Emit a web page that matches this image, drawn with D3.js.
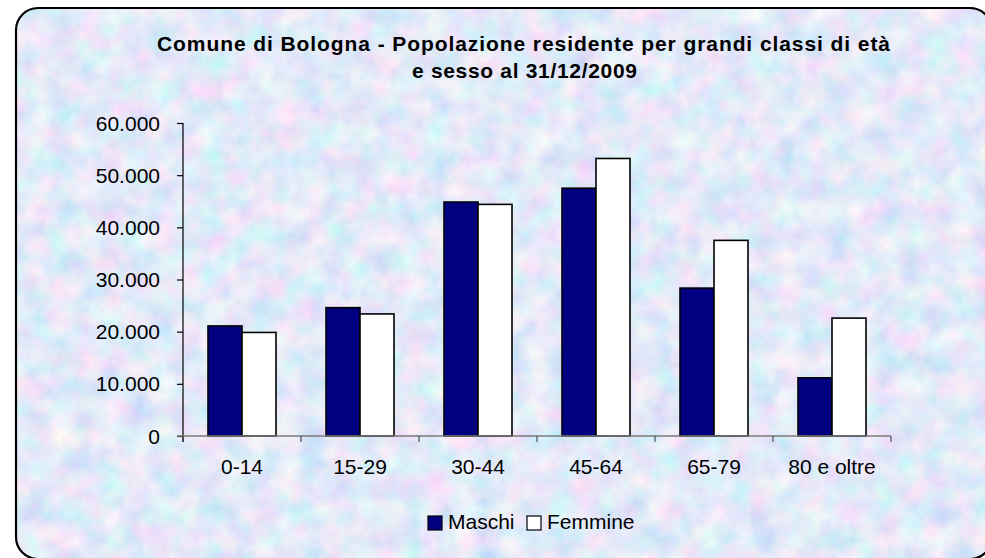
<!DOCTYPE html>
<html>
<head>
<meta charset="utf-8">
<script src="https://cdn.jsdelivr.net/npm/d3@7/dist/d3.min.js"></script>
<style>
  html, body { margin: 0; padding: 0; background: #ffffff; overflow: hidden; }
  svg { display: block; font-family: "Liberation Sans", Arial, sans-serif; }
</style>
</head>
<body>
<svg id="chart" width="985" height="558"></svg>
<script>
// ---- data ----
const categories = ["0-14", "15-29", "30-44", "45-64", "65-79", "80 e oltre"];
const seriesNames = ["Maschi", "Femmine"];
const maschi  = [21100, 24600, 44850, 47500, 28350, 11150];
const femmine = [19850, 23400, 44400, 53200, 37500, 22600];
const yTicks = [0, 10000, 20000, 30000, 40000, 50000, 60000];
const titleLines = ["Comune di Bologna - Popolazione residente per grandi classi di età",
                    "e sesso al 31/12/2009"];
const colors = ["#000080", "#ffffff"];

(function () {
const values = [maschi, femmine];
const rows = categories.map((c, i) => ({ cat: c, vals: seriesNames.map((s, j) => ({ s, j, v: values[j][i] })) }));

const svg = d3.select("#chart");

// ---- background texture ----
const defs = svg.append("defs");
const f = defs.append("filter").attr("id", "tex")
  .attr("x", 0).attr("y", 0).attr("width", "100%").attr("height", "100%");
f.append("feTurbulence").attr("type", "fractalNoise").attr("baseFrequency", "0.04")
  .attr("numOctaves", 3).attr("seed", 11).attr("result", "n");
f.append("feColorMatrix").attr("in", "n").attr("type", "matrix")
  .attr("values", "0.62 0 0 0 0.46  0 0.38 0 0 0.63  0 0 0.12 0 0.88  0 0 0 0 1")
  .attr("result", "c");
f.append("feComposite").attr("in", "c").attr("in2", "SourceGraphic").attr("operator", "in");

// rounded frame; right edge lies just past the visible area, as in the reference
const frame = "M16,30 A22,22 0 0 1 38,8 L970,8 A22,22 0 0 1 992,30 L992,537 A22,22 0 0 1 970,559 L38,559 A22,22 0 0 1 16,537 Z";
svg.append("path").attr("d", frame).attr("fill", "#c8d6f4").attr("filter", "url(#tex)");
svg.append("path").attr("d", frame).attr("fill", "none").attr("stroke", "#000").attr("stroke-width", 2.2);

// ---- scales ----
const pLeft = 183, pRight = 891, pTop = 123, pBottom = 436;
const x = d3.scaleBand().domain(categories).range([pLeft, pRight])
  .paddingInner(50 / 118).paddingOuter(25 / 118);
const xs = d3.scaleBand().domain(seriesNames).range([0, x.bandwidth()]).padding(0);
const y = d3.scaleLinear().domain([0, 60000]).range([pBottom, pTop]);
const it = d3.formatLocale({ decimal: ",", thousands: ".", grouping: [3], currency: ["€", ""] });
const fmt = it.format(",d");

// ---- title ----
const title = svg.append("text").attr("text-anchor", "middle")
  .attr("font-size", 21).attr("font-weight", "bold").attr("fill", "#000");
title.append("tspan").attr("x", 523.5).attr("y", 51).attr("textLength", 733)
  .attr("lengthAdjust", "spacing").text(titleLines[0]);
title.append("tspan").attr("x", 524.5).attr("y", 78).attr("textLength", 225)
  .attr("lengthAdjust", "spacing").text(titleLines[1]);

// ---- y axis ----
const yAxis = svg.append("g").attr("transform", `translate(${pLeft},0)`)
  .call(d3.axisLeft(y).tickValues(yTicks).tickFormat(d => fmt(d)).tickSize(6).tickPadding(17));
yAxis.select(".domain").attr("stroke", "#000").attr("stroke-width", 1.2)
  .attr("d", `M0,${pTop}V${pBottom + 6}`);
yAxis.selectAll(".tick line").attr("stroke", "#000").attr("stroke-width", 1.2);
yAxis.selectAll(".tick text").attr("font-size", 21).attr("fill", "#000")
  .attr("font-family", "Liberation Sans, Arial, sans-serif").attr("dy", "0.34em");

// ---- bars ----
const g = svg.append("g");
g.selectAll("g.cat").data(rows).join("g").attr("class", "cat")
  .attr("transform", d => `translate(${x(d.cat)},0)`)
  .selectAll("rect").data(d => d.vals).join("rect")
  .attr("x", d => xs(d.s)).attr("width", xs.bandwidth())
  .attr("y", d => y(d.v)).attr("height", d => y(0) - y(d.v))
  .attr("fill", d => colors[d.j]).attr("stroke", "#000").attr("stroke-width", 1.6);

// ---- x axis ----
const step = x.step();
const xAxisG = svg.append("g");
xAxisG.append("line").attr("x1", pLeft - 6).attr("x2", pRight).attr("y1", pBottom).attr("y2", pBottom)
  .attr("stroke", "#7a7a7a").attr("stroke-width", 1.5);
const bounds = d3.range(categories.length + 1).map(i => pLeft + i * step);
xAxisG.selectAll("line.t").data(bounds).join("line").attr("class", "t")
  .attr("x1", d => d).attr("x2", d => d).attr("y1", pBottom).attr("y2", pBottom + 6)
  .attr("stroke", "#333").attr("stroke-width", 1);
xAxisG.selectAll("text").data(categories).join("text")
  .attr("x", d => x(d) + x.bandwidth() / 2).attr("y", 474)
  .attr("text-anchor", "middle").attr("font-size", 21).attr("fill", "#000").text(d => d);

// ---- legend ----
const legend = svg.append("g");
const lx = [428, 527];
seriesNames.forEach((s, j) => {
  legend.append("rect").attr("x", lx[j]).attr("y", 516).attr("width", 14).attr("height", 14)
    .attr("fill", colors[j]).attr("stroke", "#000").attr("stroke-width", 1.2);
  legend.append("text").attr("x", lx[j] + 20).attr("y", 529).attr("font-size", 21)
    .attr("fill", "#000").text(s);
});
})();
</script>
</body>
</html>
